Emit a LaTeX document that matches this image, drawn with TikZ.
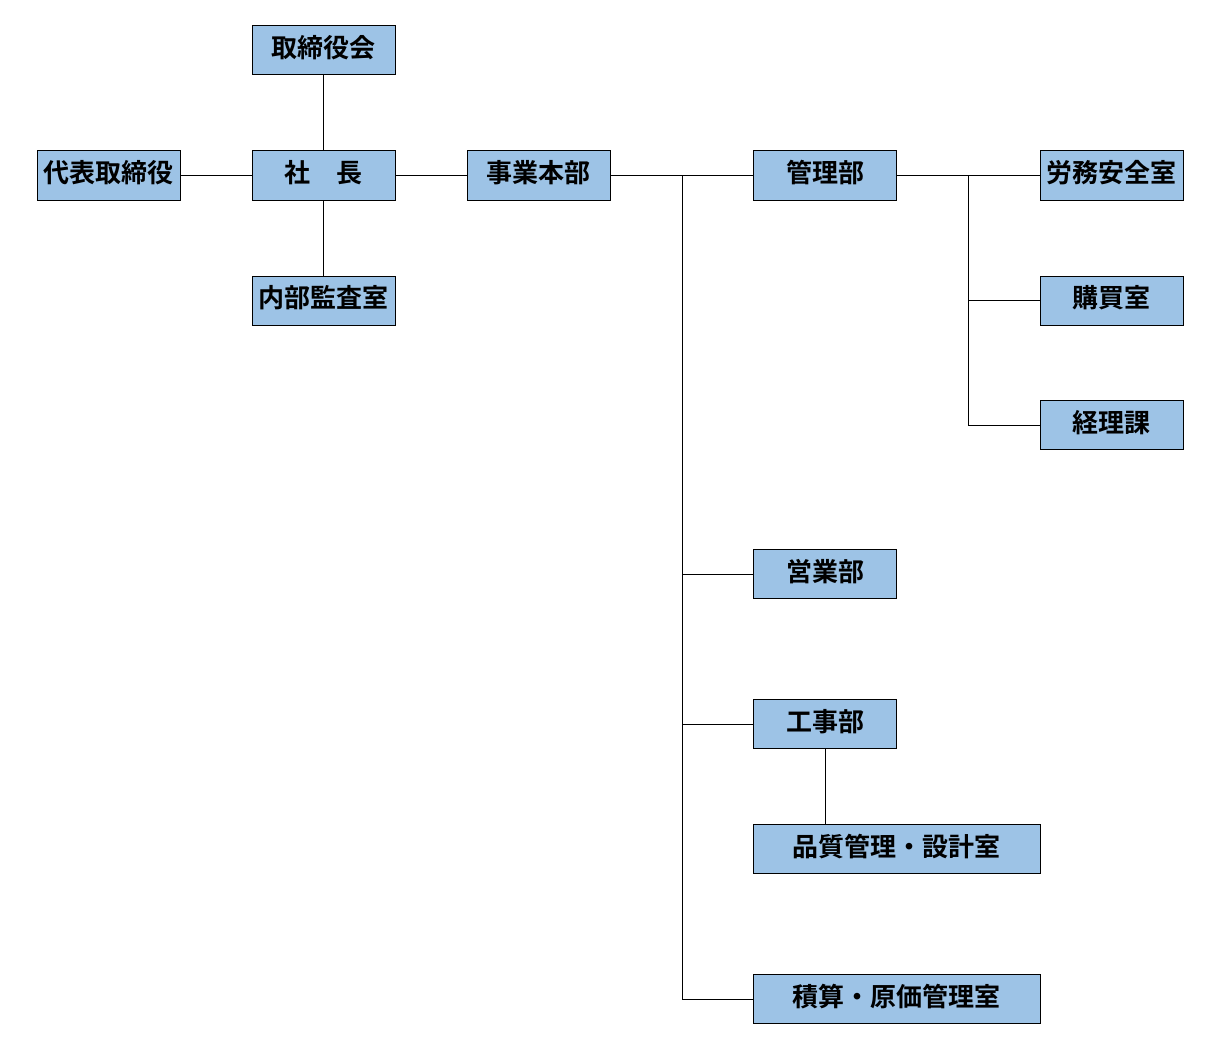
\documentclass[tikz,border=0pt]{standalone}
\usepackage{fontspec}
\newfontfamily\jpfont{Noto Sans CJK JP}[BoldFont={Noto Sans CJK JP Bold}]
\definecolor{boxfill}{HTML}{9DC3E6}
\tikzset{
  orgbox/.style={draw=black, line width=1pt, fill=boxfill, inner sep=0pt, minimum height=49pt, text height=23pt, text depth=9pt, font=\jpfont\bfseries\fontsize{26}{26}\selectfont},
  wbox/.style={orgbox, minimum width=143pt},
  widebox/.style={orgbox, minimum width=287pt},
  link/.style={draw=black, line width=1pt}
}
\begin{document}
\begin{tikzpicture}[x=1pt,y=-1pt]
\useasboundingbox (0,0) rectangle (1222,1051);
\node[wbox] (board) at (323.5,50.5) {取締役会};
\node[wbox] (rep) at (108.5,175.5) {代表取締役};
\node[wbox] (pres) at (323.5,175.5) {社　長};
\node[wbox] (audit) at (323.5,300.5) {内部監査室};
\node[wbox] (hq) at (538.5,175.5) {事業本部};
\node[wbox] (admin) at (825,175.5) {管理部};
\node[wbox] (labor) at (1111.5,175.5) {労務安全室};
\node[wbox] (purch) at (1111.5,300.5) {購買室};
\node[wbox] (acct) at (1111.5,425) {経理課};
\node[wbox] (sales) at (825,574) {営業部};
\node[wbox] (works) at (825,724) {工事部};
\node[widebox] (qual) at (896.5,849) {品質管理・設計室};
\node[widebox] (cost) at (896.5,999) {積算・原価管理室};
\coordinate (t) at (682,175.5);
\coordinate (b) at (968,175.5);
\draw[link] (board) -- (pres);
\draw[link] (pres) -- (audit);
\draw[link] (rep) -- (pres);
\draw[link] (pres) -- (hq);
\draw[link] (hq) -- (admin);
\draw[link] (t) |- (sales);
\draw[link] (t) |- (works);
\draw[link] (t) |- (cost);
\draw[link] (admin) -- (labor);
\draw[link] (b) |- (purch);
\draw[link] (b) |- (acct);
\draw[link] (works) -- (works |- qual.north);
\end{tikzpicture}
\end{document}
